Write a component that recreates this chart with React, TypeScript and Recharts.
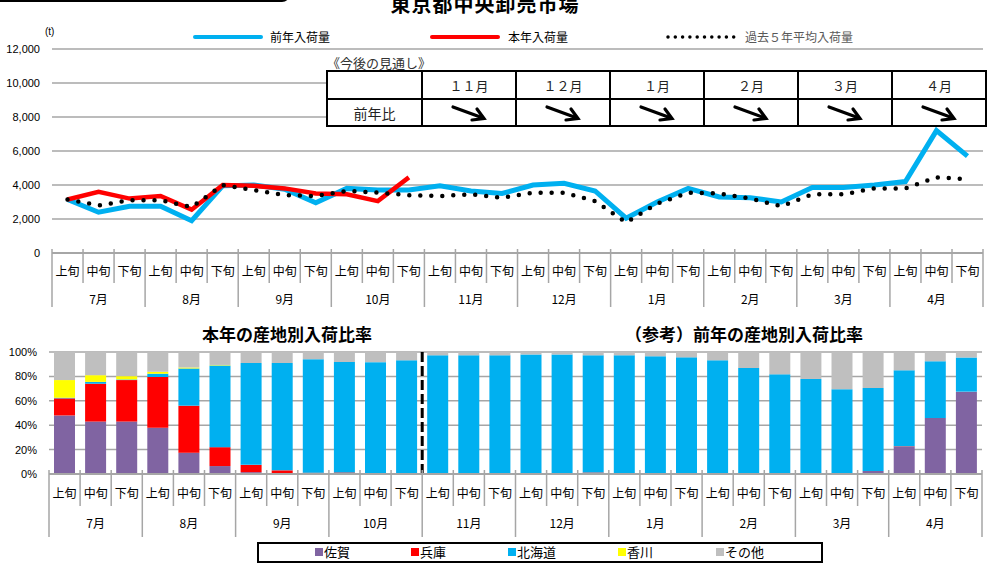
import React from "react";
import {
  LineChart,
  Line,
  BarChart,
  Bar,
  XAxis,
  YAxis,
  CartesianGrid,
  ReferenceLine,
} from "recharts";

// categories
const months = ["7月", "8月", "9月", "10月", "11月", "12月", "1月", "2月", "3月", "4月"];
const periods = ["上旬", "中旬", "下旬"];

// arrivals (t)
const prevYear = [
  3150, 2400, 2750, 2750, 1900, 3950, 4000, 3750, 2950, 3800, 3700, 3700, 3950, 3650, 3500,
  4000, 4100, 3650, 2050, 3000, 3800, 3300, 3250, 3000, 3850, 3850, 4000, 4200, 7200, 5700,
];
const thisYear = [
  3150, 3600, 3200, 3350, 2550, 4000, 3950, 3800, 3500, 3450, 3050, 4450,
  null, null, null, null, null, null, null, null, null, null, null, null, null, null, null, null, null, null,
];
const avg5Years = [
  3150, 2800, 3100, 3100, 2700, 4000, 3700, 3400, 3350, 3650, 3550, 3400, 3350, 3450, 3250,
  3550, 3550, 3050, 1800, 2900, 3550, 3500, 3200, 2750, 3450, 3450, 3800, 3800, 4450, 4350,
];
const tonTicks = [0, 2000, 4000, 6000, 8000, 10000, 12000];

// share by origin (%)
const saga = [
  48, 43, 43, 38, 17.5, 6.5, 1.5, 0.5, 0.3, 0.3, 0.2, 0.2, 0, 0, 0,
  0, 0, 0, 0, 0, 0, 0, 0, 0, 0, 0, 2.5, 22.5, 46, 67.5,
];
const hyogo = [
  14, 31, 34, 41.5, 38.5, 15.5, 6, 2.5, 0.8, 1, 0.5, 0.5, 0, 0, 0.5,
  0, 0, 1.2, 0, 0, 0, 0, 0, 0, 0, 0, 0, 0.3, 0, 0,
];
const hokkaido = [
  0.5, 1.5, 0.5, 2.7, 30.5, 67, 83.5, 88, 93, 90.5, 91, 92.5, 97.3, 97.3, 96.8,
  98, 98, 96.1, 97.3, 96.5, 95.6, 93.2, 86.9, 81.7, 77.9, 69.5, 68, 62.2, 46.4, 28,
];
const kagawa = [
  14.5, 5.5, 2.7, 1.6, 0.8, 0.4, 0, 0, 0, 0, 0, 0, 0, 0, 0,
  0, 0, 0, 0, 0, 0, 0, 0, 0, 0, 0, 0, 0, 0, 0,
];
const others = [
  23, 19, 19.8, 16.2, 12.7, 10.6, 9, 9, 5.9, 8.2, 8.3, 6.8, 2.7, 2.7, 2.7,
  2, 2, 2.7, 2.7, 3.5, 4.4, 6.8, 13.1, 18.3, 22.1, 30.5, 29.5, 15, 7.6, 4.5,
];
const pctTicks = [0, 20, 40, 60, 80, 100];

// outlook table
const outlookMonths = ["１１月", "１２月", "１月", "２月", "３月", "４月"];

const JP = '"Noto Sans CJK JP", "Noto Sans", sans-serif';
const NUM = '"Liberation Sans", Arial, sans-serif';
const GRID = "#A6A6A6";

const rows = months.flatMap((m, mi) =>
  periods.map((p, pi) => {
    const i = mi * 3 + pi;
    return {
      key: m + p,
      month: m,
      period: p,
      prev: prevYear[i],
      cur: thisYear[i],
      avg: avg5Years[i],
      saga: saga[i],
      hyogo: hyogo[i],
      hokkaido: hokkaido[i],
      kagawa: kagawa[i],
      others: others[i],
    };
  })
);

// two level category axis (旬 / 月) with Excel style separators
const CategoryTick = (props: any) => {
  const { x, y, payload, index, half, rowH, longH, labelY, monthY } = props;
  const r = rows[index];
  if (!r) return null;
  const h = payload && payload.offset ? payload.offset : half;
  const left = x - h;
  return (
    <g>
      <line
        x1={left}
        y1={y - 4}
        x2={left}
        y2={y + (r.period === "上旬" ? longH : rowH)}
        stroke={GRID}
        strokeWidth={1.5}
      />
      {index === rows.length - 1 && (
        <line x1={x + h} y1={y - 4} x2={x + h} y2={y + longH} stroke={GRID} strokeWidth={1.5} />
      )}
      <text
        x={x}
        y={y + labelY}
        textAnchor="middle"
        dominantBaseline="central"
        fontSize={12}
        fontFamily={JP}
        fill="#000"
      >
        {r.period}
      </text>
      {r.period === "中旬" && (
        <text
          x={x}
          y={y + monthY}
          textAnchor="middle"
          dominantBaseline="central"
          fontSize={12}
          fontFamily={JP}
          fill="#000"
        >
          {r.month}
        </text>
      )}
    </g>
  );
};

const Arrow = () => (
  <svg width={40} height={20} viewBox="0 0 40 20">
    <line x1={4} y1={4} x2={34} y2={15} stroke="#000" strokeWidth={3.2} strokeLinecap="round" />
    <polyline
      points="23,17 35,15.5 28,6"
      fill="none"
      stroke="#000"
      strokeWidth={3.2}
      strokeLinejoin="miter"
      strokeLinecap="round"
    />
  </svg>
);

const cell: React.CSSProperties = {
  border: "2px solid #000",
  textAlign: "center",
  padding: 0,
  fontFamily: JP,
  fontSize: 13,
  color: "#222",
};

const legendText: React.CSSProperties = {
  position: "absolute",
  fontFamily: JP,
  fontSize: 12,
  color: "#000",
  lineHeight: "14px",
  whiteSpace: "nowrap",
};

const shareLegend = [
  { name: "佐賀", color: "#8064A2", x: 315 },
  { name: "兵庫", color: "#FF0000", x: 411 },
  { name: "北海道", color: "#00B0F0", x: 508 },
  { name: "香川", color: "#FFFF00", x: 618 },
  { name: "その他", color: "#BFBFBF", x: 716 },
];

export default function App() {
  return (
    <div
      style={{
        position: "absolute",
        left: 0,
        top: 0,
        width: 992,
        height: 567,
        overflow: "hidden",
        background: "#fff",
      }}
    >
      {/* header remnants */}
      <div
        style={{
          position: "absolute",
          left: -10,
          top: -20,
          width: 300,
          height: 22,
          background: "#000",
          borderRadius: 8,
        }}
      />
      <div
        style={{
          position: "absolute",
          left: 380,
          top: -6,
          width: 210,
          textAlign: "center",
          fontFamily: JP,
          fontWeight: "bold",
          fontSize: 20,
          lineHeight: "20px",
          letterSpacing: 1,
        }}
      >
        東京都中央卸売市場
      </div>

      {/* top: arrivals */}
      <div style={{ position: "absolute", left: 0, top: 0 }}>
        <LineChart
          width={992}
          height={315}
          data={rows}
          margin={{ top: 49, right: 9, bottom: 2, left: 8 }}
        >
          <CartesianGrid vertical={false} stroke={GRID} strokeWidth={1.5} />
          <YAxis
            width={44}
            domain={[0, 12000]}
            ticks={tonTicks}
            axisLine={false}
            tickLine={false}
            tickMargin={6}
            tick={{ fontSize: 11, fontFamily: NUM, fill: "#000" }}
            tickFormatter={(v) => Number(v).toLocaleString("en-US")}
          />
          <Line
            type="linear"
            dataKey="prev"
            stroke="#00B0F0"
            strokeWidth={5}
            dot={false}
            isAnimationActive={false}
          />
          <Line
            type="linear"
            dataKey="cur"
            stroke="#FF0000"
            strokeWidth={4.5}
            dot={false}
            isAnimationActive={false}
          />
          <Line
            type="linear"
            dataKey="avg"
            stroke="#000"
            strokeWidth={4.5}
            strokeDasharray="0 11"
            strokeLinecap="round"
            dot={false}
            isAnimationActive={false}
          />
          <XAxis
            dataKey="key"
            interval={0}
            height={60}
            padding={{ left: 15.5, right: 15.5 }}
            axisLine={{ stroke: GRID, strokeWidth: 2 }}
            tickLine={false}
            tickSize={0}
            tickMargin={0}
            tick={<CategoryTick half={15.5} rowH={30} longH={54} labelY={17} monthY={45} />}
          />
        </LineChart>
      </div>

      <div style={{ ...legendText, left: 45, top: 25, fontSize: 10, fontFamily: NUM }}>(t)</div>

      {/* top legend */}
      <div style={{ position: "absolute", left: 193, top: 35, width: 70, height: 4, background: "#00B0F0", borderRadius: 2 }} />
      <div style={{ ...legendText, left: 270, top: 30 }}>前年入荷量</div>
      <div style={{ position: "absolute", left: 430, top: 35, width: 70, height: 4, background: "#FF0000", borderRadius: 2 }} />
      <div style={{ ...legendText, left: 508, top: 30 }}>本年入荷量</div>
      <svg style={{ position: "absolute", left: 664, top: 30 }} width={75} height={14}>
        <line
          x1={4}
          y1={7}
          x2={70}
          y2={7}
          stroke="#000"
          strokeWidth={3.5}
          strokeDasharray="0 7.3"
          strokeLinecap="round"
        />
      </svg>
      <div style={{ ...legendText, left: 745, top: 30, color: "#595959" }}>過去５年平均入荷量</div>

      {/* outlook table */}
      <div
        style={{
          position: "absolute",
          left: 327,
          top: 55,
          fontFamily: JP,
          fontSize: 13,
          lineHeight: "15px",
          color: "#333",
        }}
      >
        《今後の見通し》
      </div>
      <table
        style={{
          position: "absolute",
          left: 326,
          top: 70,
          borderCollapse: "collapse",
          background: "#fff",
          tableLayout: "fixed",
        }}
      >
        <tbody>
          <tr style={{ height: 28 }}>
            <td style={{ ...cell, width: 93 }}></td>
            {outlookMonths.map((m) => (
              <td key={m} style={{ ...cell, width: 92 }}>
                {m}
              </td>
            ))}
          </tr>
          <tr style={{ height: 27 }}>
            <td style={{ ...cell, fontSize: 14 }}>前年比</td>
            {outlookMonths.map((m) => (
              <td key={m} style={{ ...cell, lineHeight: 0 }}>
                <Arrow />
              </td>
            ))}
          </tr>
        </tbody>
      </table>

      {/* bottom: share by origin */}
      <div
        style={{
          position: "absolute",
          left: 192,
          top: 324,
          width: 190,
          textAlign: "center",
          fontFamily: JP,
          fontWeight: "bold",
          fontSize: 17,
          lineHeight: "20px",
        }}
      >
        本年の産地別入荷比率
      </div>
      <div
        style={{
          position: "absolute",
          left: 614,
          top: 324,
          width: 260,
          textAlign: "center",
          fontFamily: JP,
          fontWeight: "bold",
          fontSize: 17,
          lineHeight: "20px",
        }}
      >
        （参考）前年の産地別入荷比率
      </div>

      <div style={{ position: "absolute", left: 0, top: 340 }}>
        <BarChart
          width={992}
          height={227}
          data={rows}
          barSize={21}
          margin={{ top: 12, right: 10, bottom: 27, left: 7 }}
        >
          <CartesianGrid vertical={false} stroke={GRID} strokeWidth={1.5} />
          <YAxis
            width={42}
            domain={[0, 100]}
            ticks={pctTicks}
            axisLine={false}
            tickLine={false}
            tickMargin={6}
            tick={{ fontSize: 11, fontFamily: NUM, fill: "#000" }}
            tickFormatter={(v) => `${v}%`}
          />
          <Bar dataKey="saga" stackId="s" fill="#8064A2" isAnimationActive={false} />
          <Bar dataKey="hyogo" stackId="s" fill="#FF0000" isAnimationActive={false} />
          <Bar dataKey="hokkaido" stackId="s" fill="#00B0F0" isAnimationActive={false} />
          <Bar dataKey="kagawa" stackId="s" fill="#FFFF00" isAnimationActive={false} />
          <Bar dataKey="others" stackId="s" fill="#BFBFBF" isAnimationActive={false} />
          <XAxis
            dataKey="key"
            interval={0}
            height={66}
            axisLine={{ stroke: GRID, strokeWidth: 2 }}
            tickLine={false}
            tickSize={0}
            tickMargin={0}
            tick={<CategoryTick half={15.55} rowH={32} longH={63} labelY={18} monthY={48} />}
          />
          <ReferenceLine
            x="11月上旬"
            position="start"
            stroke="#000"
            strokeWidth={3}
            strokeDasharray="10 4"
            ifOverflow="visible"
          />
        </BarChart>
      </div>

      {/* bottom legend */}
      <div
        style={{
          position: "absolute",
          left: 257,
          top: 542,
          width: 562,
          height: 17,
          border: "2px solid #000",
        }}
      />
      {shareLegend.map((s) => (
        <React.Fragment key={s.name}>
          <div
            style={{
              position: "absolute",
              left: s.x,
              top: 548,
              width: 8,
              height: 8,
              background: s.color,
            }}
          />
          <div style={{ ...legendText, left: s.x + 9, top: 544, fontSize: 13, lineHeight: "16px" }}>
            {s.name}
          </div>
        </React.Fragment>
      ))}
    </div>
  );
}
